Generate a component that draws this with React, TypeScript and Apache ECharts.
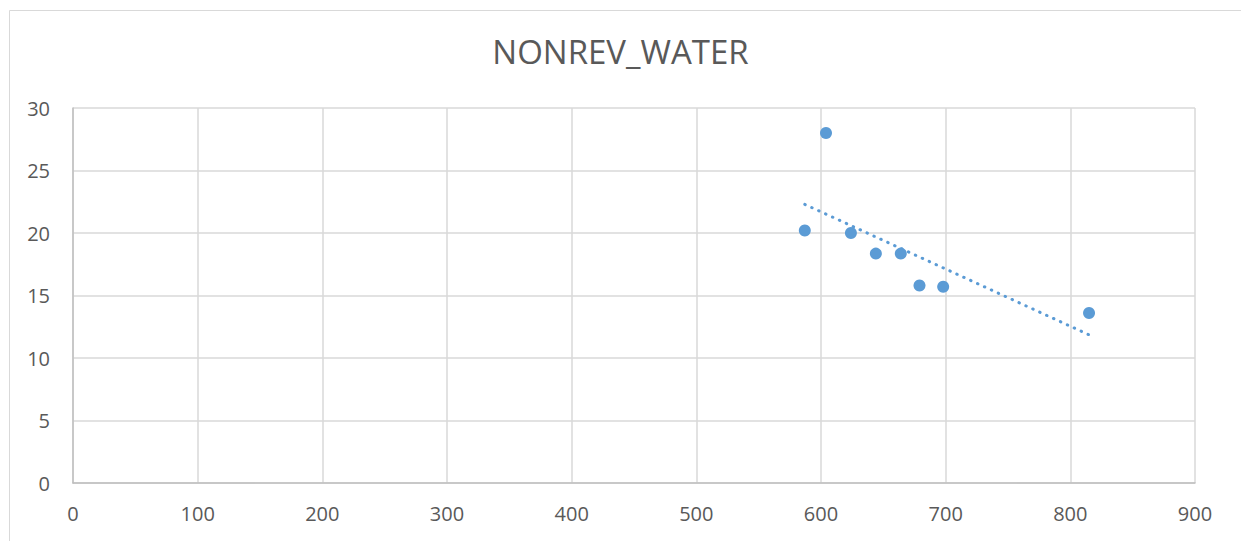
import React, { useEffect, useRef } from "react";
import * as echarts from "echarts";

const xValues: number[] = [587, 604, 624, 644, 664, 679, 698, 815];
const yValues: number[] = [20.2, 28, 20.0, 18.35, 18.35, 15.8, 15.7, 13.6];
const chartTitle = "NONREV_WATER";

function linearFit(xs: number[], ys: number[]) {
  const n = xs.length;
  const mx = xs.reduce((a, b) => a + b, 0) / n;
  const my = ys.reduce((a, b) => a + b, 0) / n;
  let sxy = 0;
  let sxx = 0;
  for (let i = 0; i < n; i++) {
    sxy += (xs[i] - mx) * (ys[i] - my);
    sxx += (xs[i] - mx) * (xs[i] - mx);
  }
  const slope = sxy / sxx;
  return { slope, intercept: my - slope * mx };
}

export default function App() {
  const ref = useRef<HTMLDivElement>(null);
  useEffect(() => {
    document.body.style.margin = "0";
    if (!ref.current) return;
    const chart = echarts.init(ref.current, undefined, { renderer: "svg" });
    const fit = linearFit(xValues, yValues);
    const xmin = Math.min(...xValues);
    const xmax = Math.max(...xValues);
    const trend = [
      [xmin, fit.intercept + fit.slope * xmin],
      [xmax, fit.intercept + fit.slope * xmax],
    ];
    const font = "'Open Sans', sans-serif";
    chart.setOption({
      animation: false,
      backgroundColor: "#ffffff",
      title: {
        text: chartTitle,
        left: "center",
        top: 30,
        textStyle: { color: "#595959", fontSize: 33, fontWeight: "normal", fontFamily: font },
      },
      graphic: [
        {
          type: "rect",
          shape: { x: 9.5, y: 10.5, width: 1400, height: 700 },
          style: { fill: "none", stroke: "#d9d9d9", lineWidth: 1 },
          silent: true,
        },
      ],
      grid: { left: 73, right: 46, top: 108, bottom: 58, containLabel: false },
      xAxis: {
        type: "value",
        min: 0,
        max: 900,
        interval: 100,
        axisLine: { show: true, lineStyle: { color: "#bfbfbf", width: 1.5 } },
        axisTick: { show: false },
        splitLine: { show: true, lineStyle: { color: "#d9d9d9", width: 1.5 } },
        axisLabel: { color: "#595959", fontSize: 20, fontFamily: font, margin: 20 },
      },
      yAxis: {
        type: "value",
        min: 0,
        max: 30,
        interval: 5,
        axisLine: { show: true, lineStyle: { color: "#bfbfbf", width: 1.5 } },
        axisTick: { show: false },
        splitLine: { show: true, lineStyle: { color: "#d9d9d9", width: 1.5 } },
        axisLabel: { color: "#595959", fontSize: 20, fontFamily: font, margin: 23 },
      },
      series: [
        {
          type: "scatter",
          data: xValues.map((x, i) => [x, yValues[i]]),
          symbol: "circle",
          symbolSize: 12,
          itemStyle: { color: "#5b9bd5", opacity: 1 },
          z: 3,
        },
        {
          type: "line",
          data: trend,
          showSymbol: false,
          symbol: "none",
          lineStyle: { color: "#5b9bd5", width: 3, type: [0.5, 7.1], cap: "round", opacity: 1 },
          z: 2,
        },
      ],
    });
    return () => chart.dispose();
  }, []);
  return <div ref={ref} style={{ width: 1241, height: 541 }} />;
}
